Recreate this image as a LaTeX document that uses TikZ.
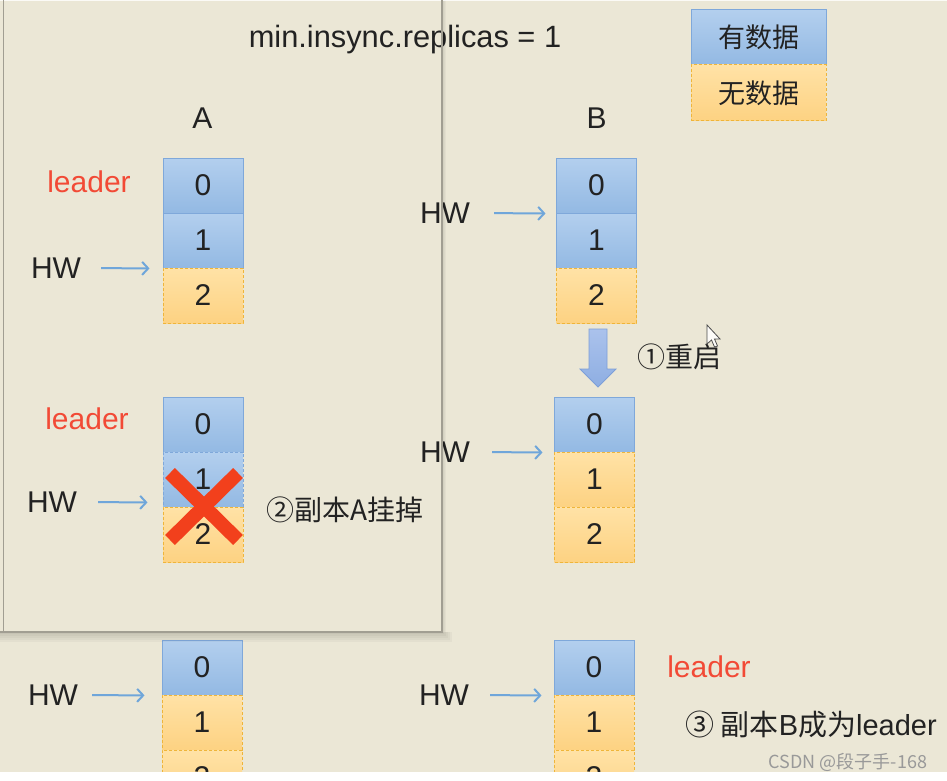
\documentclass[tikz,border=0pt]{standalone}
\usepackage{fontspec}
\setmainfont{Liberation Sans}
\newfontfamily\cjk{Noto Sans CJK SC}
\usetikzlibrary{arrows.meta}

\definecolor{bg}{HTML}{EBE7D6}
\definecolor{bluetop}{HTML}{B3CFEE}
\definecolor{bluebot}{HTML}{93B9E3}
\definecolor{blueedge}{HTML}{7FA8DA}
\definecolor{orgtop}{HTML}{FFE2A6}
\definecolor{orgbot}{HTML}{FDD282}
\definecolor{orgedge}{HTML}{EFB53A}
\definecolor{hwblue}{HTML}{6FA6DA}
\definecolor{leaderred}{HTML}{F24A36}
\definecolor{xred}{HTML}{F2401C}
\definecolor{txt}{HTML}{222222}
\definecolor{panelline}{HTML}{A19E92}
\definecolor{arrtop}{HTML}{ABC2EC}
\definecolor{arrbot}{HTML}{8EAEE2}
\definecolor{arredge}{HTML}{7D9FD8}

\begin{document}
\begin{tikzpicture}[x=1pt,y=-1pt,
  lbl/.style={text=txt, font=\fontsize{30}{34}\selectfont, inner sep=0pt},
  cjklbl/.style={text=txt, font=\cjk\fontsize{28}{32}\selectfont, inner sep=0pt},
  leaderlbl/.style={text=leaderred, font=\fontsize{30}{34}\selectfont, inner sep=0pt},
  cellbase/.style={line width=1pt, minimum width=80pt, minimum height=55pt, inner sep=0pt, text=txt, font=\fontsize{30}{34}\selectfont},
  fullcell/.style={cellbase, draw=blueedge, top color=bluetop, bottom color=bluebot},
  lostcell/.style={cellbase, draw=blueedge, dash pattern=on 3pt off 2pt, top color=bluetop, bottom color=bluebot},
  emptycell/.style={cellbase, draw=orgedge, dash pattern=on 3pt off 2pt, top color=orgtop, bottom color=orgbot},
  hwline/.style={draw=hwblue, line width=2pt, -{Straight Barb[length=6pt,width=13pt]}},
  xcross/.style={draw=xred, line width=14pt},
]
\useasboundingbox (0,0) rectangle (947,781);
\fill[bg] (0,0) rectangle (947,781);

% title and legend
\node[lbl, font=\fontsize{30.8}{34}\selectfont] (title) at (405,40) {min.insync.replicas = 1};
\node[fullcell, minimum width=135pt, font=\cjk\fontsize{27}{30}\selectfont] (legdata) at (758.5,37.5) {有数据};
\node[emptycell, minimum width=135pt, minimum height=56pt, font=\cjk\fontsize{27}{30}\selectfont] (legnodata) at (758.5,93) {无数据};

\node[lbl] (nameA) at (202.5,118) {A};
\node[lbl] (nameB) at (596.5,118) {B};

% ---- stage 1 ----
\node[fullcell] (a1c0) at (203,185.5) {0};
\node[fullcell] (a1c1) at (203,240.5) {1};
\node[emptycell] (a1c2) at (203,295.5) {2};
\node[leaderlbl] (lead1) at (89,182) {leader};
\node[lbl] (hwa1) at (56,268) {HW};
\draw[hwline, shorten <=20pt, shorten >=13pt] (hwa1.east) -- (a1c1.south west);

\node[fullcell] (b1c0) at (596.5,185.5) {0};
\node[fullcell] (b1c1) at (596.5,240.5) {1};
\node[emptycell] (b1c2) at (596.5,295.5) {2};
\node[lbl] (hwb1) at (445,213) {HW};
\draw[hwline, shorten <=24pt, shorten >=10.5pt] (hwb1.east) -- (b1c0.south west);

% restart arrow
\draw[draw=arredge, line width=0.8pt, top color=arrtop, bottom color=arrbot]
  (589,329) -- (607,329) -- (607,369) -- (616,369) -- (598,387) -- (580,369) -- (589,369) -- cycle;
\node[cjklbl] (restart) at (679,357) {①重启};

% ---- stage 2 ----
\node[fullcell] (a2c0) at (203,424.5) {0};
\node[lostcell] (a2c1) at (203,479.5) {1};
\node[emptycell] (a2c2) at (203,534.5) {2};
\node[leaderlbl] (lead2) at (87,419) {leader};
\node[lbl] (hwa2) at (52,502) {HW};
\draw[hwline, shorten <=21pt, shorten >=15pt] (hwa2.east) -- ([yshift=5pt]a2c1.south west);
\coordinate (xa) at (170,473);
\coordinate (xb) at (238,540);
\coordinate (xc) at (238,473);
\coordinate (xd) at (170,540);
\draw[xcross] (xa) -- (xb);
\draw[xcross] (xc) -- (xd);
\node[cjklbl] (crash) at (345,510) {②副本A挂掉};

\node[fullcell] (b2c0) at (594.5,424.5) {0};
\node[emptycell] (b2c1) at (594.5,479.5) {1};
\node[emptycell] (b2c2) at (594.5,534.5) {2};
\node[lbl] (hwb2) at (445,452) {HW};
\draw[hwline, shorten <=22pt, shorten >=11.5pt] (hwb2.east) -- (b2c0.south west);

% ---- stage 3 ----
\node[fullcell] (a3c0) at (202,667.5) {0};
\node[emptycell] (a3c1) at (202,722.5) {1};
\node[emptycell] (a3c2) at (202,777.5) {2};
\node[lbl] (hwa3) at (53,695) {HW};
\draw[hwline, shorten <=14pt, shorten >=17pt] (hwa3.east) -- (a3c0.south west);

\node[fullcell] (b3c0) at (594,667.5) {0};
\node[emptycell] (b3c1) at (594,722.5) {1};
\node[emptycell] (b3c2) at (594,777.5) {2};
\node[lbl] (hwb3) at (444,695) {HW};
\draw[hwline, shorten <=21pt, shorten >=12pt] (hwb3.east) -- (b3c0.south west);
\node[leaderlbl] (lead3) at (709,667) {leader};
\node[text=txt, inner sep=0pt, font=\fontsize{29}{32}\selectfont] (newleader) at (811,724) {{\cjk ③ 副本}B{\cjk 成为}leader};

% mouse pointer
\filldraw[fill=white, fill opacity=0.85, draw=black!70, line width=0.8pt]
  (707,325) -- (707,344) -- (711.5,340) -- (714.5,347) -- (717.5,346) -- (714.5,339) -- (720,339) -- cycle;

% overlapping panel (window) edges and shadow
\foreach \i in {2,4,...,10}
  \fill[black, opacity=0.03] (0,632) rectangle (442+\i,632+\i);
\foreach \i in {1,2,3,4}
  \fill[black, opacity=0.03] (442,0) rectangle (442+\i,632);
\draw[white, opacity=0.8, line width=1pt] (0,0.5) -- (947,0.5);
\draw[panelline, line width=0.9pt] (3,0) -- (3,631);
\draw[panelline, line width=1.3pt] (442,0) -- (442,632) -- (0,632);

% bottom strip and watermark
\fill[white] (0,772) rectangle (947,781);
\node[text=black!40, inner sep=0pt, font=\cjk\fontsize{18}{20}\selectfont] (wm) at (848,762) {CSDN @段子手-168};
\end{tikzpicture}
\end{document}
